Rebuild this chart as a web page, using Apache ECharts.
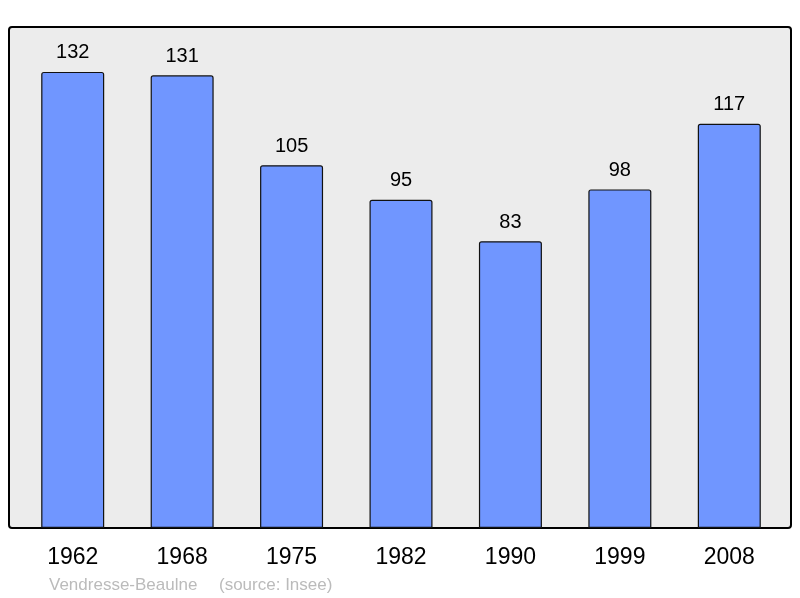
<!DOCTYPE html>
<html>
<head>
<meta charset="utf-8">
<script src="https://cdn.jsdelivr.net/npm/echarts@6/dist/echarts.min.js"></script>
<style>html,body{margin:0;padding:0;background:#fff}#c{width:800px;height:598px}</style>
</head>
<body>
<div id="c"></div>
<script>
var years = ['1962', '1968', '1975', '1982', '1990', '1999', '2008'];
var population = [132, 131, 105, 95, 83, 98, 117];
var town = 'Vendresse-Beaulne';
var source = '(source: Insee)';

var chart = echarts.init(document.getElementById('c'), null, {renderer: 'canvas'});
var font = 'Liberation Sans, Arial, sans-serif';
chart.setOption({
  animation: false,
  backgroundColor: '#ffffff',
  grid: {left: 18, right: 16, top: 27, bottom: 70},
  graphic: [
    {type: 'rect', z: -10, shape: {x: 9, y: 27, width: 782, height: 501, r: 3},
     style: {fill: '#ececec', stroke: '#000', lineWidth: 2}},
    {type: 'text', left: 49, top: 577, style: {text: town, fill: '#bbbbbb', font: '17px ' + font}},
    {type: 'text', left: 219, top: 577, style: {text: source, fill: '#bbbbbb', font: '17px ' + font}}
  ],
  xAxis: {
    type: 'category', data: years,
    axisLine: {show: false}, axisTick: {show: false},
    axisLabel: {fontSize: 23, color: '#000', margin: 18, fontFamily: font}
  },
  yAxis: {type: 'value', min: 0, max: 145, show: false, splitLine: {show: false}},
  series: [{
    type: 'bar', data: population, barWidth: 63,
    itemStyle: {color: '#7096ff', borderColor: '#111', borderWidth: 1.2, borderRadius: [2, 2, 0, 0]},
    label: {show: true, position: 'top', distance: 9, fontSize: 20, color: '#000', fontFamily: font}
  }]
});
</script>
</body>
</html>
